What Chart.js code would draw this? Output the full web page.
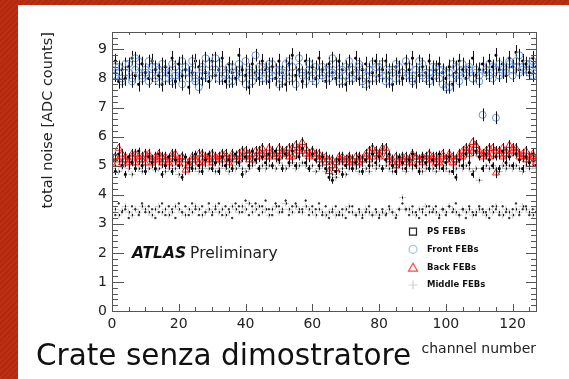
<!DOCTYPE html>
<html>
<head>
<meta charset="utf-8">
<script src="https://cdn.jsdelivr.net/npm/chart.js"></script>
<style>
  html, body { margin: 0; padding: 0; }
  body {
    width: 569px; height: 379px; overflow: hidden; position: relative;
    background: repeating-linear-gradient(135deg, #b3280e 0 2px, #bb2f13 2px 4px);
    font-family: "DejaVu Sans", sans-serif;
  }
  #panel { position: absolute; left: 18px; top: 5px; width: 551px; height: 374px; background: #fff; }
  #chart { position: absolute; left: 0; top: 0; }
  #caption { position: absolute; left: 18px; top: 333px; font-size: 29.5px; line-height: 34px; color: #111; white-space: nowrap; }
</style>
</head>
<body>
<div id="panel">
  <canvas id="chart" width="551" height="374"></canvas>
  <div id="caption">Crate senza dimostratore</div>
</div>
<script>
// channel axis 0..127
var channels = Array.from({length: 128}, function (_, i) { return i; });
var xTicks = [0, 20, 40, 60, 80, 100, 120];
var yTicks = [0, 1, 2, 3, 4, 5, 6, 7, 8, 9];

// Front FEBs
var front1 = [
  8.3,8.1,8.4,8.0, 8.2,8.5,7.9,8.7, 8.2,8.0,8.3,8.6, 8.1,8.4,7.9,8.2,
  8.3,8.0,8.5,8.1, 8.2,7.8,8.4,8.2, 8.6,8.0,7.7,8.3, 8.1,8.5,8.2,8.7,
  8.0,8.3,8.1,8.4, 7.9,8.2,8.5,8.0, 7.8,8.3,8.2,8.8, 8.1,8.4,8.0,8.2,
  8.5,8.1,8.3,7.9, 8.2,8.6,8.0,7.8, 8.4,8.2,8.1,8.5, 8.3,7.9,8.2,8.4,
  8.0,8.3,8.7,8.1, 8.2,7.9,8.4,8.0, 8.3,8.1,8.5,8.2, 7.8,8.3,8.0,8.4,
  8.2,8.5,8.1,7.9, 8.3,8.0,8.4,8.2, 8.6,8.1,7.9,8.3, 8.2,8.5,8.0,8.2,
  8.4,8.1,8.3,7.8, 8.2,7.7,8.0,8.4, 8.2,8.5,8.1,8.3, 8.0,8.2,7.9,6.75,
  8.3,8.1,8.4,6.65, 8.5,8.2,8.3,8.6, 8.1,8.4,8.8,8.3, 8.5,8.2,8.6,8.4
];
var front2 = [
  8.1,8.4,8.2,7.9, 8.5,8.2,8.0,8.3, 8.6,8.1,8.2,7.9, 8.4,8.0,8.3,8.5,
  8.0,8.2,7.9,8.4, 8.1,8.6,8.2,8.0, 8.3,7.9,8.1,8.4, 8.7,8.0,8.2,8.3,
  8.5,8.0,8.2,7.9, 8.4,8.1,8.3,8.0, 8.6,8.2,7.9,8.1, 8.4,8.0,8.3,8.5,
  8.1,8.3,7.8,8.2, 8.5,8.0,8.4,8.2, 8.7,8.1,7.9,8.3, 8.0,8.4,8.2,8.1,
  8.3,8.0,8.2,8.5, 7.9,8.3,8.1,8.6, 8.0,8.2,8.4,7.9, 8.1,8.3,8.5,8.0,
  8.4,8.1,7.9,8.3, 8.2,8.5,8.0,8.2, 8.1,8.4,8.0,8.3, 8.6,8.1,8.2,7.9,
  8.2,8.4,8.0,8.3, 7.7,8.2,8.5,8.1, 7.9,8.3,8.2,8.4, 8.0,8.3,8.1,8.4,
  8.2,8.5,8.0,8.3, 8.1,8.4,8.2,8.5, 8.3,8.6,8.2,8.4, 8.3,8.5,8.1,8.4
];
// PS FEBs
var psHigh = [
  8.2,8.6,7.9,8.3, 8.0,8.4,8.7,8.1, 7.8,8.5,8.2,8.0, 8.6,8.3,8.1,7.8,
  8.4,8.2,8.7,7.9, 8.5,8.1,8.3,7.7, 8.2,8.6,8.4,8.0, 8.2,7.9,8.6,8.1,
  8.3,8.7,7.9,8.5, 8.2,8.0,8.8,8.3, 8.1,7.7,8.5,8.2, 8.0,8.6,8.3,7.9,
  8.4,8.0,8.6,8.2, 7.8,8.5,8.8,8.1, 8.3,7.9,8.6,8.2, 8.4,8.0,8.7,8.3,
  7.9,8.5,8.2,8.0, 8.6,8.3,7.8,8.4, 8.2,8.7,8.0,8.3, 8.5,7.9,8.2,8.6,
  8.1,8.3,8.6,8.2, 7.8,8.4,8.2,8.0, 8.5,8.3,8.7,7.9, 8.1,8.4,8.2,8.6,
  8.0,8.3,8.5,8.2, 8.0,8.4,7.8,8.2, 8.6,8.3,8.0,8.4, 8.7,8.1,8.3,8.5,
  8.2,8.6,8.4,8.8, 8.3,8.5,8.1,8.7, 8.4,8.9,8.3,8.6, 8.5,8.2,8.7,8.4
];
var psLow = [
  5.2,4.8,5.4,5.0, 4.7,5.3,5.1,4.9, 5.5,5.0,4.8,5.3, 5.1,4.9,5.4,4.7,
  5.0,5.3,4.8,5.2, 5.0,4.6,5.3,5.1, 4.9,5.4,5.0,4.8, 5.2,5.4,4.9,5.1,
  4.8,5.3,5.0,5.2, 4.9,5.4,5.1,4.7, 5.3,5.0,5.5,5.2, 4.9,5.3,5.1,5.4,
  5.0,5.5,5.2,4.9, 5.4,5.1,5.5,5.0, 5.3,5.6,5.1,4.9, 5.4,5.2,5.0,5.3,
  4.9,4.6,4.5,4.8, 5.2,4.7,5.0,5.3, 4.9,5.1,5.3,4.8, 5.2,5.0,5.4,5.1,
  5.3,4.9,5.2,5.4, 5.0,4.8,5.3,5.1, 4.9,5.2,5.4,5.0, 4.8,5.3,5.1,4.9,
  5.2,5.0,5.4,4.9, 5.1,5.3,4.8,4.6, 5.2,5.0,5.4,5.1, 4.7,5.5,5.3,4.9,
  5.4,5.2,5.0,5.3, 4.9,5.5,5.1,5.3, 5.0,5.4,5.2,4.9, 5.3,5.1,5.4,5.0
];
// Back FEBs
var back1 = [
  5.2,5.3,5.6,5.1, 5.3,5.2,5.4,5.1, 5.3,5.2,5.4,5.3, 5.1,5.2,5.4,5.3,
  5.2,5.1,5.3,5.4, 5.2,5.3,4.85,5.1, 5.2,5.3,5.1,5.4, 5.2,5.3,5.1,5.2,
  5.3,5.2,5.4,5.1, 5.3,5.2,5.4,5.3, 5.5,5.2,5.4,5.3, 5.5,5.4,5.3,5.6,
  5.4,5.3,5.6,5.4, 5.5,5.3,5.6,5.4, 5.5,5.8,5.6,5.4, 5.5,5.3,5.4,5.2,
  5.3,4.8,5.2,5.1, 5.3,5.2,5.1,5.3, 5.2,5.1,5.3,5.2, 5.4,5.2,5.3,5.5,
  5.4,5.6,5.3,5.2, 5.1,5.0,5.2,5.3, 5.1,5.2,5.4,5.3, 5.2,5.1,5.3,5.2,
  5.3,5.1,5.2,5.4, 5.2,5.3,5.1,5.2, 5.3,5.5,5.6,5.4, 5.8,5.7,5.5,5.4,
  5.5,5.6,5.4,4.75, 5.5,5.6,5.4,5.7, 5.5,5.6,5.4,5.3, 5.5,5.2,5.3,5.1
];
var back2 = [
  5.1,5.3,5.2,5.4, 5.2,5.1,5.3,5.4, 5.2,5.3,5.1,5.4, 5.2,5.3,5.2,5.1,
  5.3,5.2,5.4,5.2, 5.1,5.3,5.2,5.0, 5.3,5.2,5.4,5.1, 5.3,5.2,5.4,5.3,
  5.2,5.4,5.3,5.2, 5.4,5.3,5.2,5.5, 5.3,5.4,5.2,5.5, 5.3,5.6,5.4,5.3,
  5.5,5.4,5.3,5.5, 5.4,5.6,5.3,5.7, 5.6,5.5,5.4,5.3, 5.5,5.4,5.2,5.3,
  5.1,5.2,5.0,4.9, 5.2,5.3,5.2,5.1, 5.2,5.3,5.1,5.2, 5.3,5.5,5.6,5.4,
  5.3,5.5,5.6,5.3, 5.2,5.3,5.1,5.2, 5.3,5.2,5.1,5.3, 5.2,5.3,5.2,5.4,
  5.2,5.3,5.1,5.3, 5.2,5.4,5.3,5.2, 5.4,5.3,5.5,5.6, 5.5,5.7,5.4,5.3,
  5.4,5.3,5.6,5.5, 5.4,5.3,5.5,5.4, 5.6,5.5,5.3,5.4, 5.2,5.3,5.4,5.2
];
// Middle FEBs
var mid1 = [
  4.9,5.0,4.8,4.95, 5.0,4.9,4.7,5.0, 4.9,4.8,5.0,4.9, 5.0,4.85,4.9,5.0,
  4.8,4.9,5.0,4.9, 4.7,5.0,4.9,4.8, 5.0,4.9,4.8,4.9, 5.0,4.9,5.0,4.8,
  4.9,5.0,4.9,4.8, 5.0,4.9,5.0,4.9, 4.8,4.9,5.0,5.1, 4.9,5.0,4.9,5.0,
  5.0,4.9,5.1,5.0, 4.9,5.0,5.1,4.9, 5.0,5.1,5.0,4.9, 5.0,4.8,4.9,5.0,
  4.8,4.9,4.7,4.6, 4.8,4.9,4.7,4.9, 5.0,4.9,4.8,5.0, 4.9,4.8,5.0,4.9,
  5.0,4.9,5.0,4.9, 4.8,4.9,5.0,4.9, 4.8,5.0,4.9,5.0, 4.9,4.8,4.9,5.0,
  4.9,4.8,4.9,5.0, 4.9,4.8,5.0,4.9, 5.0,4.9,5.0,4.9, 4.8,4.9,4.5,4.9,
  5.0,4.9,5.0,4.9, 4.8,5.0,4.9,5.0, 4.9,5.0,4.9,4.8, 5.0,4.9,5.0,4.9
];
var mid2 = [
  3.4,3.5,3.3,3.45, 3.6,3.4,3.3,3.5, 3.4,3.6,3.5,3.4, 3.3,3.5,3.6,3.4,
  3.5,3.3,3.4,3.6, 3.5,3.4,3.3,3.5, 3.4,3.6,3.5,3.3, 3.4,3.5,3.4,3.6,
  3.4,3.5,3.3,3.4, 3.6,3.5,3.4,3.6, 3.5,3.7,3.4,3.5, 3.6,3.4,3.5,3.3,
  3.5,3.6,3.4,3.5, 3.7,3.5,3.4,3.6, 3.5,3.4,3.6,3.5, 3.4,3.3,3.5,3.4,
  3.3,3.4,3.5,3.3, 3.4,3.3,3.5,3.6, 3.4,3.3,3.4,3.3, 3.5,3.4,3.3,3.4,
  3.3,3.4,3.35,3.5, 3.4,3.3,3.5,3.9, 3.5,3.5,3.4,3.3, 3.5,3.4,3.6,3.4,
  3.5,3.4,3.3,3.5, 3.4,3.6,3.5,3.4, 3.3,3.5,3.4,3.5, 3.3,3.4,3.5,3.4,
  3.3,3.5,3.4,3.6, 3.4,3.3,3.5,3.4, 3.3,3.5,3.4,3.6, 3.5,3.4,3.3,3.5
];
var mid3 = [
  3.6,3.3,3.7,3.4, 3.5,3.2,3.6,3.5, 3.3,3.7,3.4,3.6, 3.5,3.2,3.4,3.7,
  3.3,3.6,3.5,3.2, 3.7,3.4,3.6,3.3, 3.7,3.5,3.3,3.6, 3.4,3.7,3.3,3.5,
  3.7,3.3,3.6,3.5, 3.2,3.7,3.6,3.4, 3.8,3.3,3.6,3.7, 3.3,3.6,3.8,3.5,
  3.3,3.7,3.6,3.4, 3.8,3.3,3.6,3.7, 3.4,3.5,3.8,3.3, 3.6,3.5,3.7,3.3,
  3.6,3.2,3.4,3.6, 3.3,3.5,3.2,3.4, 3.6,3.3,3.5,3.2, 3.4,3.6,3.3,3.5,
  3.2,3.5,3.3,3.6, 3.4,3.2,3.5,3.7, 3.5,3.3,3.6,3.4, 3.2,3.5,3.3,3.6,
  3.4,3.6,3.2,3.5, 3.3,3.6,3.4,3.7, 3.3,3.5,3.2,3.6, 3.4,3.3,3.6,3.5,
  3.4,3.2,3.6,3.5, 3.3,3.6,3.4,3.2, 3.5,3.7,3.3,3.5, 3.6,3.3,3.5,3.4
];
// half-length of the error bars of each series
var errors = { front: 0.22, psHigh: 0.25, back: 0.18, psLow: 0.12, mid: 0.04 };

var BLUE = '#6d93d8', RED = '#ff1c1c', GREY = '#b8b8b8', FONT = 'DejaVu Sans';

function pts(values) {
  return channels.map(function (c, i) { return { x: c, y: values[i] }; });
}
function series(values, err, style, color, radius, fill) {
  return {
    data: pts(values), err: err, pointStyle: style, pointRadius: radius,
    borderColor: color, backgroundColor: fill || 'transparent', pointBorderWidth: 1,
    showLine: false
  };
}

// first one is drawn on top
var datasets = [
  series(front1, errors.front, 'circle', BLUE, 3.5),
  series(psHigh, errors.psHigh, 'rect', '#000', 1.3, '#000'),
  series(front2, errors.front, 'circle', BLUE, 3.5),
  series(psLow, errors.psLow, 'rect', '#000', 1.3, '#000'),
  series(back1, errors.back, 'triangle', RED, 4),
  series(back2, errors.back, 'triangle', RED, 4),
  series(mid3, 0, 'rect', '#333', 0.9, '#333'),
  series(mid1, errors.mid, 'cross', GREY, 3.5),
  series(mid2, errors.mid, 'cross', '#c8c8c8', 3.5)
];

var legendItems = [
  { text: 'PS FEBs', style: 'rect', color: '#222' },
  { text: 'Front FEBs', style: 'circle', color: '#a9bfe9' },
  { text: 'Back FEBs', style: 'triangle', color: '#ff4848' },
  { text: 'Middle FEBs', style: 'cross', color: '#cfcfcf' }
];

var rootStyle = {
  id: 'rootStyle',
  afterDatasetDraw: function (chart, args) {
    var ds = chart.data.datasets[args.index];
    if (!ds.err) return;
    var x = chart.scales.x, y = chart.scales.y, ctx = chart.ctx, a = chart.chartArea;
    ctx.save();
    ctx.beginPath();
    ctx.rect(a.left, a.top, a.right - a.left, a.bottom - a.top);
    ctx.clip();
    ctx.strokeStyle = '#111';
    ctx.lineWidth = 1;
    ctx.beginPath();
    ds.data.forEach(function (p) {
      var px = Math.round(x.getPixelForValue(p.x)) + 0.5;
      ctx.moveTo(px, y.getPixelForValue(p.y + ds.err));
      ctx.lineTo(px, y.getPixelForValue(p.y - ds.err));
    });
    ctx.stroke();
    ctx.restore();
  },
  afterDatasetsDraw: function (chart) {
    var x = chart.scales.x, y = chart.scales.y, ctx = chart.ctx, a = chart.chartArea;
    ctx.save();
    ctx.strokeStyle = '#555';
    ctx.lineWidth = 1;
    ctx.strokeRect(Math.round(a.left) + 0.5, Math.round(a.top) + 0.5,
      Math.round(a.right - a.left), Math.round(a.bottom - a.top));
    ctx.beginPath();
    var v, px, len, i;
    for (v = 0; v <= x.max; v += 5) {
      px = Math.round(x.getPixelForValue(v)) + 0.5;
      len = v % 20 === 0 ? 7 : 4;
      ctx.moveTo(px, a.bottom); ctx.lineTo(px, a.bottom - len);
      ctx.moveTo(px, a.top); ctx.lineTo(px, a.top + (v % 20 === 0 ? 6 : 3));
    }
    for (i = 0; i / 5 <= y.max; i++) {
      px = Math.round(y.getPixelForValue(i / 5)) + 0.5;
      len = i % 5 === 0 ? 12 : 6;
      ctx.moveTo(a.left, px); ctx.lineTo(a.left + len, px);
      ctx.moveTo(a.right, px); ctx.lineTo(a.right - (i % 5 === 0 ? 10 : 5), px);
    }
    ctx.stroke();

    // legend
    ctx.font = 'bold 8.5px "' + FONT + '"';
    ctx.textBaseline = 'middle';
    ctx.textAlign = 'left';
    var rows = [226.7, 244.3, 262.7, 280];
    legendItems.forEach(function (it, k) {
      var mx = 395, my = rows[k], r = 4;
      ctx.strokeStyle = it.color;
      ctx.lineWidth = 1.2;
      ctx.beginPath();
      if (it.style === 'rect') ctx.rect(mx - 3.5, my - 3.5, 7, 7);
      else if (it.style === 'circle') ctx.arc(mx, my, r, 0, Math.PI * 2);
      else if (it.style === 'triangle') { ctx.moveTo(mx, my - 4.5); ctx.lineTo(mx + 4.5, my + 3.5); ctx.lineTo(mx - 4.5, my + 3.5); ctx.closePath(); }
      else { ctx.moveTo(mx - 4.5, my); ctx.lineTo(mx + 4.5, my); ctx.moveTo(mx, my - 4.5); ctx.lineTo(mx, my + 4.5); }
      ctx.stroke();
      ctx.fillStyle = '#111';
      ctx.fillText(it.text, 409, my);
    });

    // ATLAS label
    ctx.textBaseline = 'alphabetic';
    ctx.fillStyle = '#111';
    ctx.font = 'italic bold 15.5px "' + FONT + '"';
    ctx.fillText('ATLAS', 114, 253);
    var w = ctx.measureText('ATLAS').width;
    ctx.fillStyle = '#222';
    ctx.font = '15.5px "' + FONT + '"';
    ctx.fillText('Preliminary', 114 + w + 4, 253);
    ctx.restore();
  }
};

var ctx = document.getElementById('chart').getContext('2d');
var chart = new Chart(ctx, {
  type: 'scatter',
  data: { datasets: datasets },
  plugins: [rootStyle],
  options: {
    responsive: false,
    animation: false,
    layout: { padding: { left: 0, top: 27, right: 33, bottom: 0 } },
    plugins: { legend: { display: false }, tooltip: { enabled: false } },
    scales: {
      x: {
        type: 'linear', min: 0, max: 127,
        afterBuildTicks: function (s) { s.ticks = xTicks.map(function (v) { return { value: v }; }); },
        afterFit: function (s) { s.height = 68; },
        grid: { display: false, drawTicks: false },
        border: { display: false },
        ticks: { padding: 5, color: '#222', maxRotation: 0, autoSkip: false, font: { family: FONT, size: 14 } },
        title: { display: true, text: 'channel number', align: 'end', color: '#222',
                 padding: { top: 0, bottom: 21 }, font: { family: FONT, size: 14 } }
      },
      y: {
        type: 'linear', min: 0, max: 9.6,
        afterBuildTicks: function (s) { s.ticks = yTicks.map(function (v) { return { value: v }; }); },
        afterFit: function (s) { s.width = 94; },
        grid: { display: false, drawTicks: false },
        border: { display: false },
        ticks: { padding: 5, color: '#222', font: { family: FONT, size: 14 } },
        title: { display: true, text: 'total noise [ADC counts]', align: 'end', color: '#222',
                 padding: { top: 22, bottom: 0 }, font: { family: FONT, size: 14.5 } }
      }
    }
  }
});
</script>
</body>
</html>
